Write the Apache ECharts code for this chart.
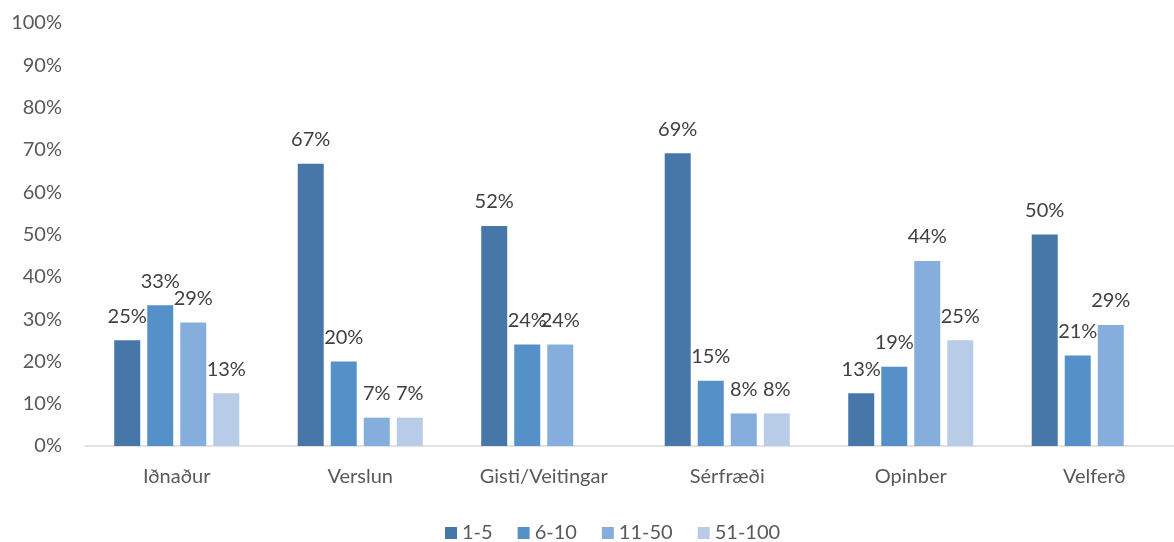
<!DOCTYPE html>
<html>
<head>
<meta charset="utf-8">
<script src="https://cdn.jsdelivr.net/npm/echarts@6/dist/echarts.min.js"></script>
<style>html,body{margin:0;padding:0;background:#fff;}#c{width:1174px;height:542px;}</style>
</head>
<body>
<div id="c"></div>
<script>
const categories = ['Iðnaður', 'Verslun', 'Gisti/Veitingar', 'Sérfræði', 'Opinber', 'Velferð'];
const seriesNames = ['1-5', '6-10', '11-50', '51-100'];
const s1_5 = [25, 66.7, 52, 69.2, 12.5, 50];
const s6_10 = [33.3, 20, 24, 15.4, 18.75, 21.4];
const s11_50 = [29.2, 6.7, 24, 7.7, 43.75, 28.6];
const s51_100 = [12.5, 6.7, null, 7.7, 25, null];
const yTicks = [0, 10, 20, 30, 40, 50, 60, 70, 80, 90, 100];
const colors = ['#4677A8', '#5591C8', '#85AEDC', '#B8CCE8'];

const FONT = 'Lato, "Open Sans", sans-serif';
const chart = echarts.init(document.getElementById('c'));
const values = [s1_5, s6_10, s11_50, s51_100];
chart.setOption({
  animation: false,
  textStyle: { fontFamily: FONT },
  grid: { left: 85, top: 23, width: 1101, height: 423, outerBoundsMode: 'none', containLabel: false },
  legend: {
    top: 518, left: 440,
    itemWidth: 12, itemHeight: 12, itemGap: 25,
    icon: 'rect',
    textStyle: { fontSize: 20, color: '#595959', fontFamily: FONT },
    data: seriesNames
  },
  xAxis: {
    type: 'category', data: categories,
    axisLine: { lineStyle: { color: '#d9d9d9', width: 1.5 } },
    axisTick: { show: false },
    axisLabel: { fontSize: 20, color: '#595959', margin: 21, fontFamily: FONT }
  },
  yAxis: {
    type: 'value', min: yTicks[0], max: yTicks[yTicks.length - 1], interval: 10,
    axisLine: { show: false }, axisTick: { show: false }, splitLine: { show: false },
    axisLabel: { fontSize: 20, color: '#595959', margin: 23, formatter: v => v + '%', fontFamily: FONT }
  },
  series: seriesNames.map((n, i) => ({
    name: n, type: 'bar', data: values[i],
    barWidth: 26, barGap: '27%',
    itemStyle: { color: colors[i] },
    label: {
      show: true, position: 'top', distance: 14,
      fontSize: 20, color: '#404040', fontFamily: FONT,
      formatter: p => (p.value == null ? '' : Math.round(p.value) + '%')
    }
  }))
});
</script>
</body>
</html>
